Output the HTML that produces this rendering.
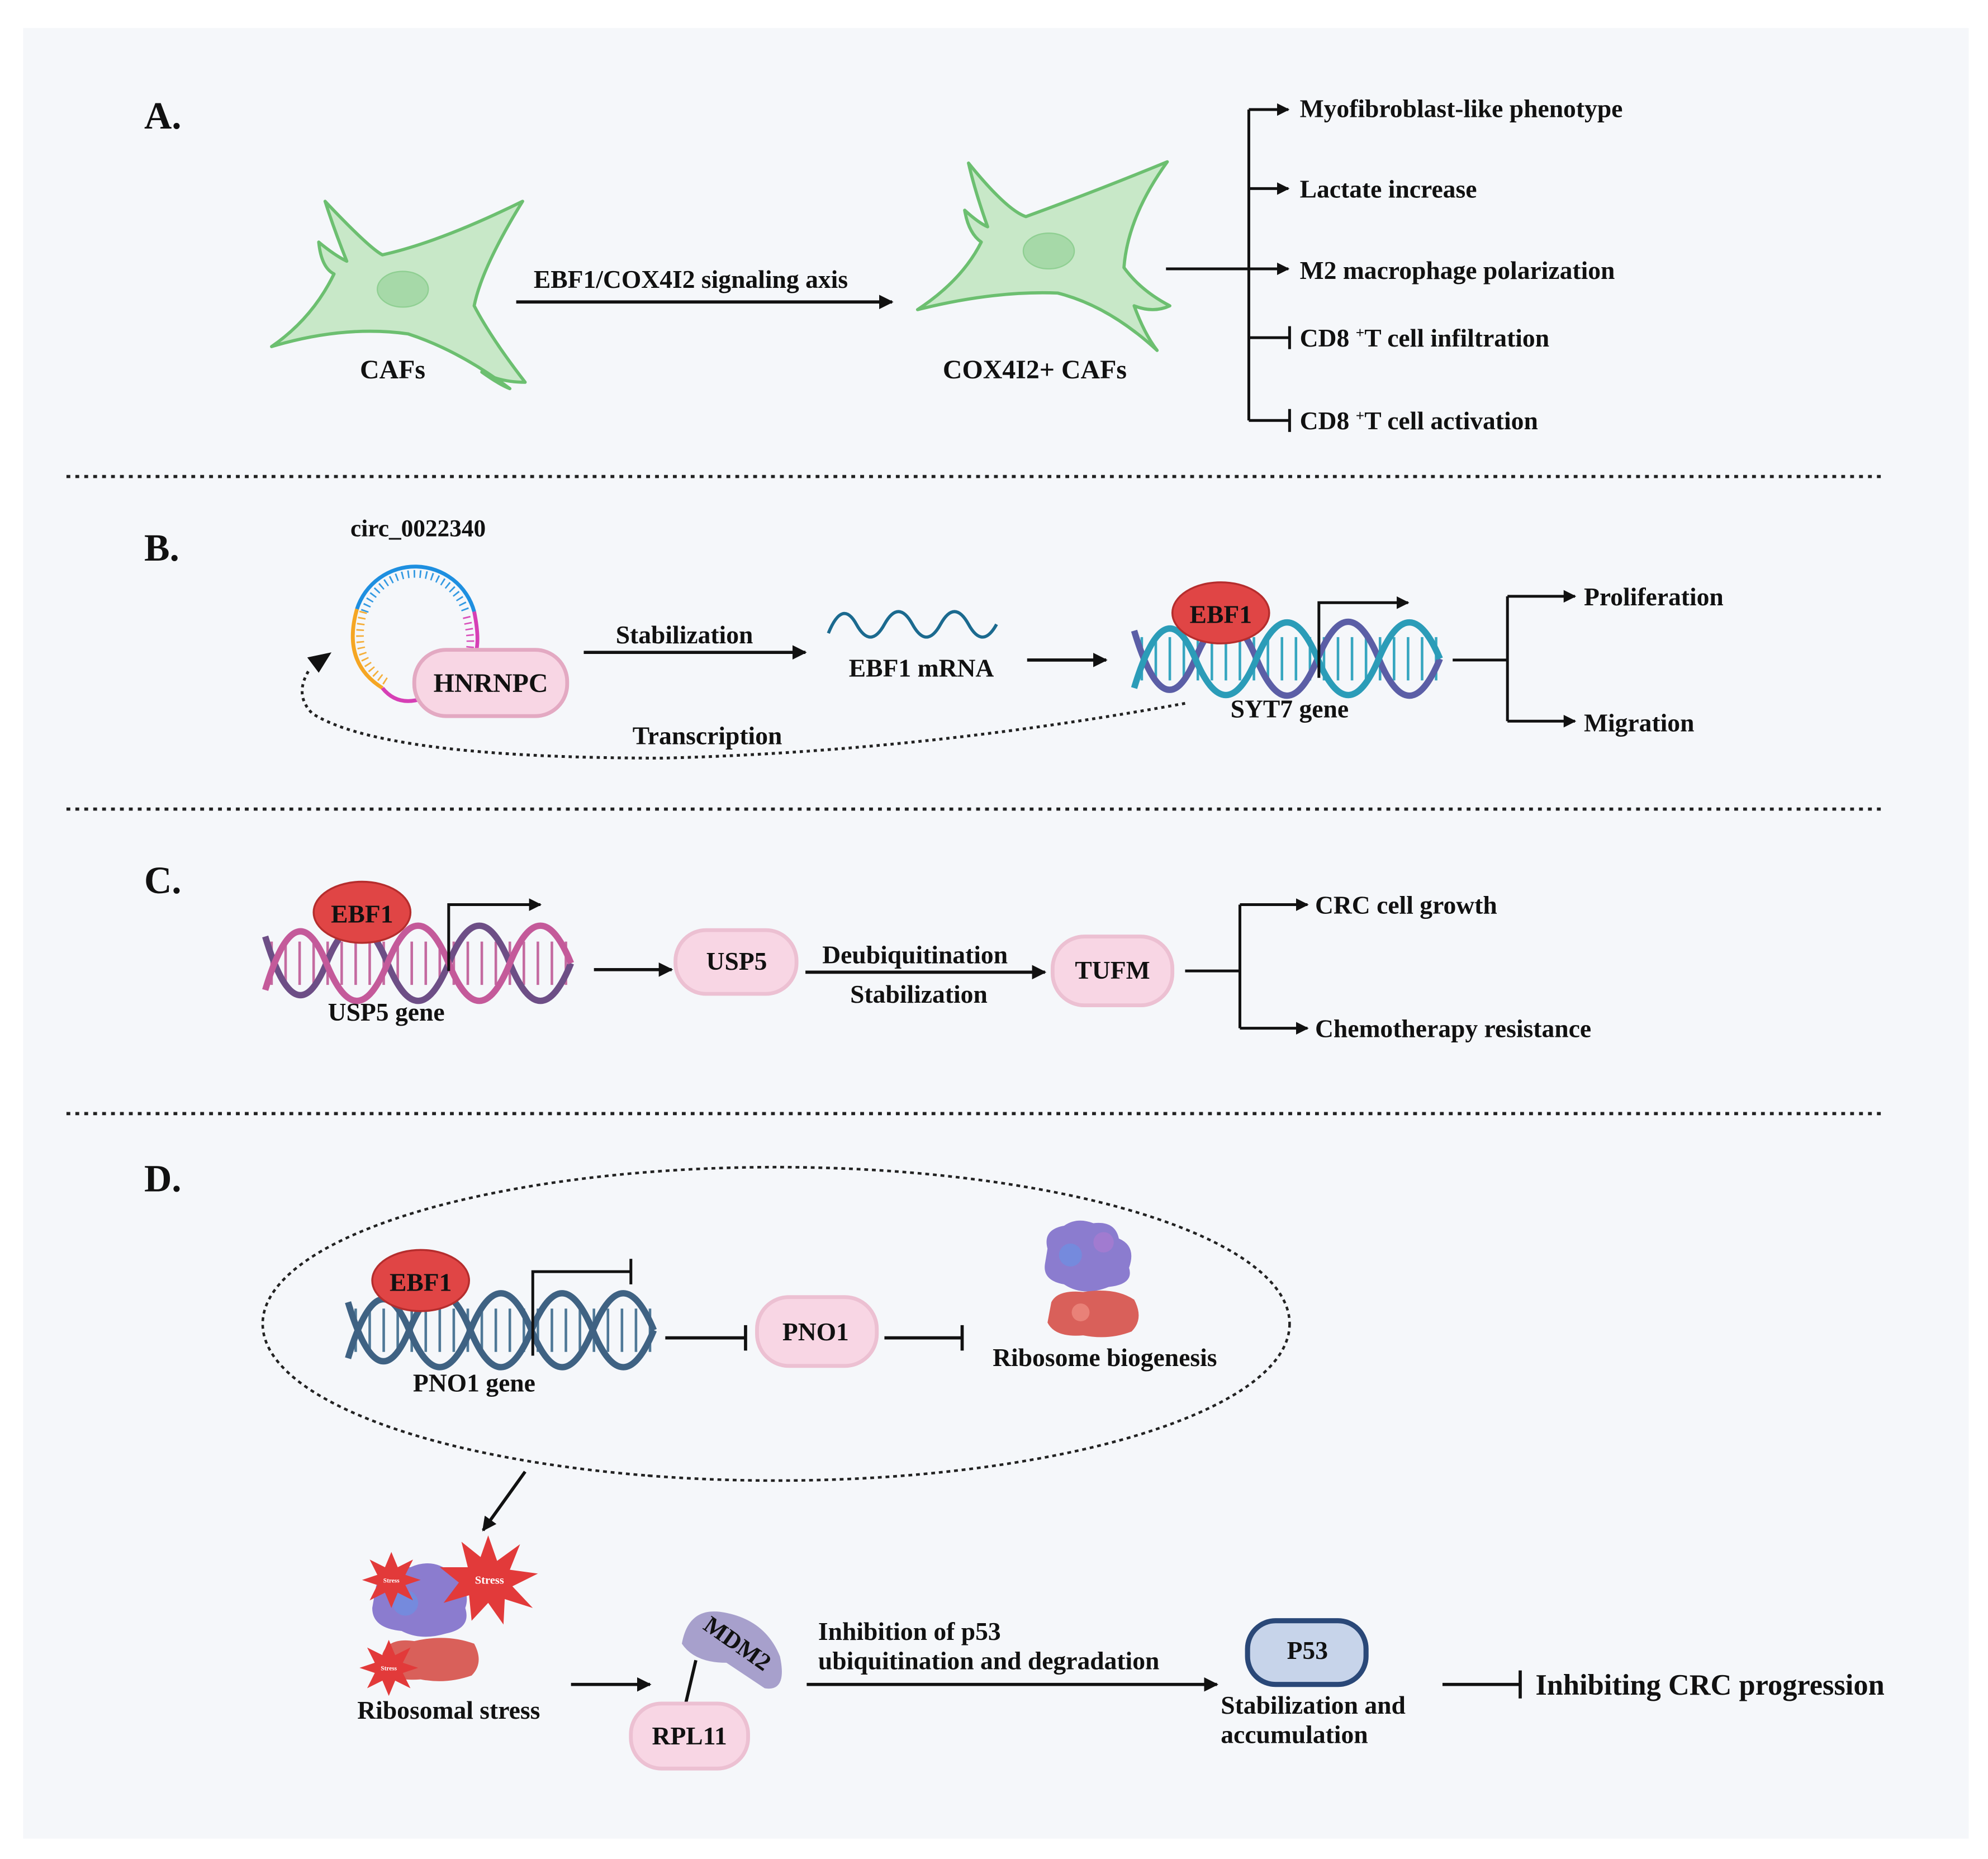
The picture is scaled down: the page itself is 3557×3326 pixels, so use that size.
<!DOCTYPE html>
<html><head><meta charset="utf-8"><style>
html,body{margin:0;padding:0;background:#fff;}
svg{display:block;}
svg text{font-family:"Liberation Serif","Times New Roman",serif !important;font-weight:bold;fill:#111;}
</style></head><body>
<svg width="3557" height="3326" viewBox="0 0 1560 1459" xmlns="http://www.w3.org/2000/svg" font-family="Liberation Serif, serif" font-weight="bold">
<defs>
<marker id="ah" viewBox="0 0 10 10" refX="9" refY="5" markerWidth="4.5" markerHeight="4.5" orient="auto"><path d="M0,0 L10,5 L0,10 z" fill="#111"/></marker>
</defs>
<rect x="0" y="0" width="1560" height="1459" fill="#fff"/>
<rect x="18" y="22" width="1527" height="1421" fill="#f5f7fa"/>

<!-- ===== A ===== -->
<text x="113" y="101" font-size="30">A.</text>
<g fill="#c8e8c8" stroke="#6cbf70" stroke-width="2.5" stroke-linejoin="round">
<path d="M255,158 Q290,195 300,200 Q345,190 410,158 Q378,210 372,240 Q385,265 412,300 Q392,300 378,292 Q392,302 400,305 Q360,275 320,262 Q270,255 213,272 Q245,250 262,215 Q252,210 250,190 Q262,200 272,205 Q262,180 255,158 Z"/>
<path d="M760,128 Q790,165 805,170 Q860,150 916,127 Q885,170 882,210 Q895,228 918,240 Q905,246 890,240 Q898,262 908,275 Q870,240 830,230 Q780,228 720,243 Q755,220 770,190 Q760,183 757,165 Q768,175 775,178 Q765,150 760,128 Z"/>
</g>
<ellipse cx="316" cy="227" rx="20" ry="14" fill="#a6d9a8" stroke="#8fcf92"/>
<ellipse cx="823" cy="197" rx="20" ry="14" fill="#a6d9a8" stroke="#8fcf92"/>
<text x="308" y="297" font-size="21" text-anchor="middle">CAFs</text>
<text x="812" y="297" font-size="21" text-anchor="middle">COX4I2+ CAFs</text>
<line x1="405" y1="237" x2="700" y2="237" stroke="#111" stroke-width="2.5" marker-end="url(#ah)"/>
<text x="542" y="226" font-size="20" text-anchor="middle">EBF1/COX4I2 signaling axis</text>
<g stroke="#111" stroke-width="2.2" fill="none">
<line x1="915" y1="211" x2="980" y2="211"/>
<line x1="980" y1="86" x2="980" y2="330"/>
<line x1="980" y1="86" x2="1011" y2="86" marker-end="url(#ah)"/>
<line x1="980" y1="148" x2="1011" y2="148" marker-end="url(#ah)"/>
<line x1="980" y1="211" x2="1011" y2="211" marker-end="url(#ah)"/>
<line x1="980" y1="265" x2="1012" y2="265"/><line x1="1012" y1="256" x2="1012" y2="274"/>
<line x1="980" y1="330" x2="1012" y2="330"/><line x1="1012" y1="321" x2="1012" y2="339"/>
</g>
<g font-size="20">
<text x="1020" y="92">Myofibroblast-like phenotype</text>
<text x="1020" y="155">Lactate increase</text>
<text x="1020" y="219">M2 macrophage polarization</text>
<text x="1020" y="272">CD8 <tspan font-size="12" dy="-7">+</tspan><tspan dy="7">T cell infiltration</tspan></text>
<text x="1020" y="337">CD8 <tspan font-size="12" dy="-7">+</tspan><tspan dy="7">T cell activation</tspan></text>
</g>
<line x1="52" y1="374" x2="1478" y2="374" stroke="#222" stroke-width="2.5" stroke-dasharray="3 4"/>

<!-- ===== B ===== -->
<text x="113" y="440" font-size="30">B.</text>
<text x="328" y="421" font-size="19" text-anchor="middle">circ_0022340</text>
<g fill="none" stroke-width="3">
<path d="M280,478 A48,48 0 0 1 372,480" stroke="#1e8fe0"/>
<path d="M280,478 Q268,520 300,540" stroke="#f5a623"/>
<path d="M372,480 Q378,510 370,518" stroke="#d63fb5"/>
<path d="M300,540 Q312,555 332,548" stroke="#d63fb5"/>
</g>
<g fill="none" stroke-width="6" stroke-dasharray="1.2 3.5" opacity="0.9">
<path d="M286,480 A42,44 0 0 1 366,482" stroke="#1e8fe0"/>
<path d="M285,480 Q275,518 303,535" stroke="#f5a623"/>
<path d="M366,484 Q372,508 366,516" stroke="#d63fb5"/>
</g>
<rect x="325" y="510" width="120" height="52" rx="25" fill="#f8d6e4" stroke="#e3a9c2" stroke-width="3"/>
<text x="385" y="543" font-size="21" text-anchor="middle">HNRNPC</text>
<line x1="458" y1="512" x2="632" y2="512" stroke="#111" stroke-width="2.5" marker-end="url(#ah)"/>
<text x="537" y="505" font-size="20" text-anchor="middle">Stabilization</text>
<path d="M650,497 Q661,470 672,490 T694,490 T716,490 T738,490 T760,490 T782,490" fill="none" stroke="#1b6a8f" stroke-width="2.5"/>
<text x="723" y="531" font-size="20" text-anchor="middle">EBF1 mRNA</text>
<line x1="806" y1="518" x2="868" y2="518" stroke="#111" stroke-width="2.5" marker-end="url(#ah)"/>
<line x1="895" y1="517" x2="1128" y2="517" stroke="#36a6c0" stroke-width="34" stroke-dasharray="2 9"/>
<path d="M890,495 Q914,575 938,517 T986,517 T1034,517 T1082,517 T1130,517" fill="none" stroke="#5b5ea6" stroke-width="5"/>
<path d="M890,540 Q914,460 938,517 T986,517 T1034,517 T1082,517 T1130,517" fill="none" stroke="#2b9cb8" stroke-width="5"/>
<ellipse cx="958" cy="481" rx="38" ry="24" fill="#e04545" stroke="#b52d2d" stroke-width="1.5"/>
<text x="958" y="489" font-size="20" text-anchor="middle">EBF1</text>
<path d="M1035,532 L1035,473 L1105,473" fill="none" stroke="#111" stroke-width="2.2" marker-end="url(#ah)"/>
<text x="1012" y="563" font-size="20" text-anchor="middle">SYT7 gene</text>
<g stroke="#111" stroke-width="2.2" fill="none">
<line x1="1140" y1="518" x2="1183" y2="518"/>
<line x1="1183" y1="468" x2="1183" y2="566"/>
<line x1="1183" y1="468" x2="1236" y2="468" marker-end="url(#ah)"/>
<line x1="1183" y1="566" x2="1236" y2="566" marker-end="url(#ah)"/>
</g>
<text x="1243" y="475" font-size="20">Proliferation</text>
<text x="1243" y="574" font-size="20">Migration</text>
<path d="M930,552 Q720,590 520,595 Q300,595 245,560 Q230,545 243,525" fill="none" stroke="#222" stroke-width="2.2" stroke-dasharray="2.5 3"/>
<path d="M241,516 L260,512 L250,528 Z" fill="#111"/>
<text x="555" y="584" font-size="20" text-anchor="middle">Transcription</text>
<line x1="52" y1="635" x2="1478" y2="635" stroke="#222" stroke-width="2.5" stroke-dasharray="3 4"/>

<!-- ===== C ===== -->
<text x="113" y="701" font-size="30">C.</text>
<line x1="212" y1="756" x2="446" y2="756" stroke="#c46aa0" stroke-width="34" stroke-dasharray="2 9"/>
<path d="M208,735 Q232,815 256,756 T304,756 T352,756 T400,756 T448,756" fill="none" stroke="#6d4e86" stroke-width="5"/>
<path d="M208,777 Q232,697 256,756 T304,756 T352,756 T400,756 T448,756" fill="none" stroke="#c45a9a" stroke-width="5"/>
<ellipse cx="284" cy="716" rx="38" ry="24" fill="#e04545" stroke="#b52d2d" stroke-width="1.5"/>
<text x="284" y="724" font-size="20" text-anchor="middle">EBF1</text>
<path d="M352,762 L352,710 L424,710" fill="none" stroke="#111" stroke-width="2.2" marker-end="url(#ah)"/>
<text x="303" y="801" font-size="20" text-anchor="middle">USP5 gene</text>
<line x1="466" y1="761" x2="527" y2="761" stroke="#111" stroke-width="2.5" marker-end="url(#ah)"/>
<rect x="530" y="730" width="95" height="50" rx="24" fill="#f8d6e4" stroke="#ecc0d2" stroke-width="3"/>
<text x="578" y="761" font-size="20" text-anchor="middle">USP5</text>
<line x1="632" y1="763" x2="820" y2="763" stroke="#111" stroke-width="2.5" marker-end="url(#ah)"/>
<text x="718" y="756" font-size="20" text-anchor="middle">Deubiquitination</text>
<text x="721" y="787" font-size="20" text-anchor="middle">Stabilization</text>
<rect x="826" y="735" width="94" height="54" rx="25" fill="#f8d6e4" stroke="#ecc0d2" stroke-width="3"/>
<text x="873" y="768" font-size="20" text-anchor="middle">TUFM</text>
<g stroke="#111" stroke-width="2.2" fill="none">
<line x1="930" y1="762" x2="973" y2="762"/>
<line x1="973" y1="710" x2="973" y2="807"/>
<line x1="973" y1="710" x2="1026" y2="710" marker-end="url(#ah)"/>
<line x1="973" y1="807" x2="1026" y2="807" marker-end="url(#ah)"/>
</g>
<text x="1032" y="717" font-size="20">CRC cell growth</text>
<text x="1032" y="814" font-size="20">Chemotherapy resistance</text>
<line x1="52" y1="874" x2="1478" y2="874" stroke="#222" stroke-width="2.5" stroke-dasharray="3 4"/>

<!-- ===== D ===== -->
<text x="113" y="935" font-size="30">D.</text>
<ellipse cx="609" cy="1039" rx="403" ry="123" fill="none" stroke="#222" stroke-width="2" stroke-dasharray="3 3"/>
<line x1="278" y1="1044" x2="512" y2="1044" stroke="#4f7897" stroke-width="34" stroke-dasharray="2 9"/>
<path d="M273,1022 Q297,1102 321,1044 T369,1044 T417,1044 T465,1044 T513,1044" fill="none" stroke="#3f6283" stroke-width="5"/>
<path d="M273,1066 Q297,986 321,1044 T369,1044 T417,1044 T465,1044 T513,1044" fill="none" stroke="#3f6283" stroke-width="5"/>
<ellipse cx="330" cy="1005" rx="38" ry="24" fill="#e04545" stroke="#b52d2d" stroke-width="1.5"/>
<text x="330" y="1013" font-size="20" text-anchor="middle">EBF1</text>
<path d="M418,1064 L418,998 L495,998 M495,988 L495,1008" fill="none" stroke="#111" stroke-width="2.2"/>
<text x="372" y="1092" font-size="20" text-anchor="middle">PNO1 gene</text>
<path d="M522,1050 L585,1050 M585,1040 L585,1060" stroke="#111" stroke-width="2.5" fill="none"/>
<rect x="594" y="1018" width="94" height="54" rx="25" fill="#f8d6e4" stroke="#ecc0d2" stroke-width="3"/>
<text x="640" y="1052" font-size="20" text-anchor="middle">PNO1</text>
<path d="M694,1050 L755,1050 M755,1040 L755,1060" stroke="#111" stroke-width="2.5" fill="none"/>
<g>
<path d="M822,980 Q818,965 835,962 Q845,955 858,960 Q875,958 878,972 Q892,978 886,995 Q890,1008 870,1010 Q850,1018 835,1008 Q818,1005 820,992 Z" fill="#8b7ccf"/>
<circle cx="840" cy="985" r="9" fill="#6f8de0" opacity="0.8"/>
<circle cx="866" cy="975" r="8" fill="#a67ad0" opacity="0.8"/>
<path d="M825,1022 Q830,1012 850,1014 Q875,1010 890,1020 Q898,1035 888,1045 Q870,1052 850,1048 Q828,1050 822,1038 Z" fill="#d9605a"/>
<circle cx="848" cy="1030" r="7" fill="#ec8a80" opacity="0.8"/>
</g>
<text x="867" y="1072" font-size="20" text-anchor="middle">Ribosome biogenesis</text>
<line x1="412" y1="1155" x2="379" y2="1201" stroke="#111" stroke-width="2.5" marker-end="url(#ah)"/>
<g>
<path d="M295,1245 Q300,1228 322,1230 Q340,1222 355,1235 Q370,1248 365,1262 Q370,1278 350,1282 Q330,1288 315,1280 Q292,1278 292,1262 Z" fill="#8b7ccf"/>
<circle cx="318" cy="1258" r="10" fill="#6f8de0" opacity="0.8"/>
<path d="M300,1298 Q305,1285 325,1288 Q350,1282 372,1290 Q380,1305 370,1315 Q350,1322 330,1318 Q305,1320 300,1308 Z" fill="#d9605a"/>
<polygon points="383,1205 390,1225 408,1212 400,1232 422,1235 402,1245 418,1262 396,1255 395,1275 383,1258 370,1272 368,1252 348,1258 360,1242 345,1230 367,1230 362,1210 377,1222" fill="#e23a3a"/>
<text x="384" y="1243" font-size="9" text-anchor="middle" style="fill:#fff">Stress</text>
<polygon points="307,1218 312,1230 324,1224 318,1236 330,1240 318,1244 324,1256 312,1250 307,1262 302,1250 290,1256 296,1244 284,1240 296,1236 290,1224 302,1230" fill="#e23a3a"/>
<text x="307" y="1242" font-size="5" text-anchor="middle" style="fill:#fff">Stress</text>
<polygon points="305,1287 310,1299 322,1293 316,1305 328,1309 316,1313 322,1325 310,1319 305,1331 300,1319 288,1325 294,1313 282,1309 294,1305 288,1293 300,1299" fill="#e23a3a"/>
<text x="305" y="1311" font-size="5" text-anchor="middle" style="fill:#fff">Stress</text>
</g>
<text x="352" y="1349" font-size="20" text-anchor="middle">Ribosomal stress</text>
<line x1="448" y1="1322" x2="510" y2="1322" stroke="#111" stroke-width="2.5" marker-end="url(#ah)"/>
<path d="M535,1290 Q540,1262 565,1265 Q600,1270 612,1300 Q618,1328 600,1325 Q585,1315 570,1305 Q545,1305 535,1290 Z" fill="#a7a0cc"/>
<text x="575" y="1295" font-size="19" text-anchor="middle" transform="rotate(35 575 1295)">MDM2</text>
<line x1="546" y1="1303" x2="538" y2="1337" stroke="#111" stroke-width="2.5"/>
<rect x="495" y="1337" width="92" height="51" rx="24" fill="#f8d6e4" stroke="#ecc0d2" stroke-width="3"/>
<text x="541" y="1369" font-size="20" text-anchor="middle">RPL11</text>
<line x1="633" y1="1322" x2="955" y2="1322" stroke="#111" stroke-width="2.5" marker-end="url(#ah)"/>
<text x="642" y="1287" font-size="20">Inhibition of p53</text>
<text x="642" y="1310" font-size="20">ubiquitination and degradation</text>
<rect x="979" y="1272" width="93" height="50" rx="22" fill="#c7d4ea" stroke="#2a4878" stroke-width="4"/>
<text x="1026" y="1302" font-size="20" text-anchor="middle">P53</text>
<text x="958" y="1345" font-size="20">Stabilization and</text>
<text x="958" y="1368" font-size="20">accumulation</text>
<path d="M1132,1322 L1193,1322 M1193,1311 L1193,1333" stroke="#111" stroke-width="2.5" fill="none"/>
<text x="1205" y="1330" font-size="23">Inhibiting CRC progression</text>
</svg>
</body></html>
